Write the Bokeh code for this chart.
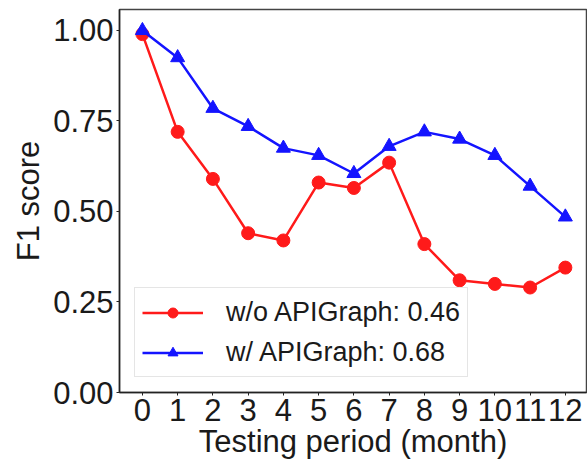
from bokeh.plotting import figure
from bokeh.models import Legend, LegendItem, FixedTicker, Range1d, CustomJSTickFormatter
from bokeh.embed import file_html
from bokeh.resources import INLINE

months = list(range(13))
wo_apigraph = [0.99, 0.72, 0.59, 0.44, 0.42, 0.58, 0.565, 0.635, 0.41, 0.31, 0.30, 0.29, 0.345]
w_apigraph = [1.00, 0.925, 0.785, 0.735, 0.675, 0.655, 0.605, 0.68, 0.72, 0.70, 0.655, 0.57, 0.485]
y_ticks = [0.0, 0.25, 0.5, 0.75, 1.0]
label_wo = "w/o APIGraph: 0.46"
label_w = "w/ APIGraph: 0.68"

FONT = "Liberation Sans"
RED = "#ff1a1a"
BLUE = "#1414ff"

p = figure(frame_width=467, frame_height=383, output_backend="svg", toolbar_location=None,
           x_range=Range1d(-0.65, 12.6), y_range=Range1d(0, 1.058),
           min_border_left=119, min_border_top=9, min_border_right=1, min_border_bottom=73)

p.grid.visible = False
p.outline_line_color = "#444444"
p.outline_line_width = 1.5

l1 = p.line(months, wo_apigraph, line_color=RED, line_width=2.5)
k1 = p.scatter(months, wo_apigraph, marker="circle", size=13, fill_color=RED, line_color=RED)
l2 = p.line(months, w_apigraph, line_color=BLUE, line_width=2.5)
k2 = p.scatter(months, w_apigraph, marker="triangle", size=14, fill_color=BLUE, line_color=BLUE)

p.xaxis.ticker = FixedTicker(ticks=months)
p.yaxis.ticker = FixedTicker(ticks=y_ticks)
p.yaxis.formatter = CustomJSTickFormatter(code="return tick.toFixed(2);")

for ax in (p.xaxis[0], p.yaxis[0]):
    ax.major_label_text_font = FONT
    ax.major_label_text_font_size = "31px"
    ax.major_label_text_color = "#1a1a1a"
    ax.axis_label_text_font = FONT
    ax.axis_label_text_font_size = "31px"
    ax.axis_label_text_font_style = "normal"
    ax.axis_label_text_color = "#1a1a1a"
    ax.axis_line_color = "#222222"
    ax.axis_line_width = 1.5
    ax.major_tick_line_color = "#222222"
    ax.major_tick_out = 3
    ax.major_tick_in = 0
    ax.minor_tick_line_color = None
    ax.major_label_standoff = 3

p.xaxis.axis_label = "Testing period (month)"
p.yaxis.axis_label = "F1 score"
p.xaxis.axis_label_standoff = 0
p.yaxis.axis_label_standoff = 4

legend = Legend(items=[LegendItem(label=label_wo, renderers=[l1, k1]),
                       LegendItem(label=label_w, renderers=[l2, k2])],
                location=(15, 15))
legend.label_text_font = FONT
legend.label_text_font_size = "27px"
legend.label_text_color = "#1a1a1a"
legend.glyph_width = 61
legend.glyph_height = 25
legend.label_height = 34
legend.label_standoff = 23
legend.spacing = 6
legend.padding = 7
legend.margin = 0
legend.border_line_color = "#cccccc"
legend.border_line_width = 1.5
legend.background_fill_alpha = 0.9
p.add_layout(legend)

open("out.html", "w").write(file_html(p, INLINE))
